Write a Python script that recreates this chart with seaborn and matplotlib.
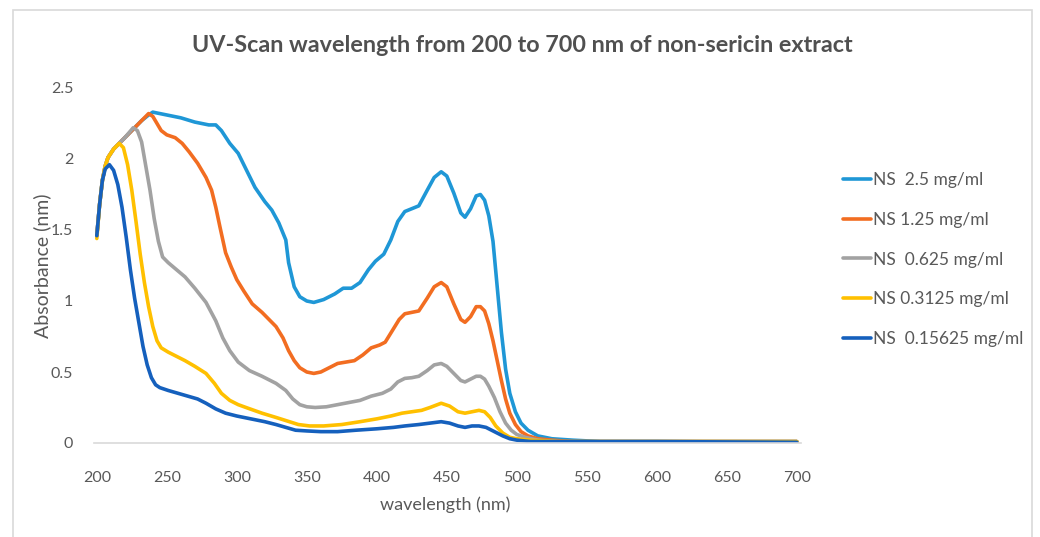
import numpy as np
import pandas as pd
import matplotlib
matplotlib.use("Agg")
import matplotlib.pyplot as plt
import matplotlib.patches as mpatches
import seaborn as sns

# ---------------- data ----------------
series_labels = ["NS  2.5 mg/ml", "NS 1.25 mg/ml", "NS  0.625 mg/ml",
                 "NS 0.3125 mg/ml", "NS  0.15625 mg/ml"]
series_colors = ["#1F97D6", "#F26D21", "#A2A2A2", "#FFC000", "#1560BD"]

wl_25 = [200, 202, 204, 206, 208, 212, 216, 220, 226, 232, 237, 240, 245, 250, 260,
         270, 280, 285, 289, 295, 301, 307, 313, 320, 325, 330, 335, 337, 341, 345,
         350, 355, 362, 370, 376, 382, 388, 394, 399, 405, 410, 415, 420, 425, 430,
         436, 441, 446, 450, 455, 460, 463, 467, 471, 474, 477, 480, 483, 486, 489,
         492, 495, 499, 503, 508, 515, 525, 540, 560, 600, 650, 700]
ab_25 = [1.46, 1.68, 1.85, 1.95, 2.01, 2.07, 2.11, 2.15, 2.21, 2.27, 2.31, 2.33, 2.32, 2.31, 2.29,
         2.26, 2.24, 2.24, 2.20, 2.11, 2.04, 1.92, 1.80, 1.70, 1.64, 1.55, 1.43, 1.27, 1.10, 1.03,
         1.00, 0.99, 1.01, 1.05, 1.09, 1.09, 1.13, 1.22, 1.28, 1.33, 1.43, 1.56, 1.63, 1.65, 1.67,
         1.78, 1.87, 1.91, 1.88, 1.76, 1.62, 1.59, 1.65, 1.74, 1.75, 1.71, 1.60, 1.42, 1.10, 0.78,
         0.52, 0.35, 0.22, 0.14, 0.09, 0.05, 0.03, 0.02, 0.01, 0.01, 0.01, 0.01]

wl_125 = [200, 202, 204, 206, 208, 212, 216, 220, 226, 232, 237, 240, 243, 246, 250,
          256, 261, 266, 272, 278, 282, 285, 288, 292, 296, 300, 305, 311, 318, 323,
          328, 333, 337, 341, 345, 350, 355, 360, 366, 372, 378, 384, 390, 396, 402,
          406, 411, 416, 420, 425, 430, 436, 441, 446, 450, 455, 460, 463, 467, 471,
          474, 477, 480, 483, 486, 489, 492, 495, 499, 503, 508, 515, 525, 540, 600, 700]
ab_125 = [1.46, 1.68, 1.85, 1.95, 2.01, 2.07, 2.11, 2.15, 2.21, 2.27, 2.32, 2.30, 2.25, 2.20, 2.17,
          2.15, 2.11, 2.05, 1.97, 1.87, 1.78, 1.66, 1.52, 1.34, 1.24, 1.15, 1.07, 0.98, 0.92, 0.87,
          0.82, 0.74, 0.65, 0.58, 0.53, 0.50, 0.49, 0.50, 0.53, 0.56, 0.57, 0.58, 0.62, 0.67, 0.69,
          0.71, 0.79, 0.87, 0.91, 0.92, 0.93, 1.02, 1.10, 1.13, 1.10, 0.98, 0.87, 0.85, 0.89, 0.96,
          0.96, 0.93, 0.84, 0.72, 0.58, 0.44, 0.31, 0.21, 0.13, 0.08, 0.05, 0.03, 0.02, 0.01, 0.01, 0.01]

wl_0625 = [200, 202, 204, 206, 208, 212, 216, 220, 226, 229, 232, 235, 238, 241, 244,
           247, 251, 257, 263, 270, 278, 285, 290, 295, 301, 309, 318, 328, 335, 340,
           345, 350, 356, 364, 372, 380, 388, 396, 404, 410, 415, 420, 425, 430, 436,
           441, 446, 450, 456, 460, 463, 467, 471, 474, 477, 480, 484, 488, 492, 496,
           500, 506, 515, 530, 600, 700]
ab_0625 = [1.46, 1.68, 1.85, 1.95, 2.01, 2.07, 2.11, 2.15, 2.22, 2.20, 2.12, 1.95, 1.78, 1.58, 1.42,
           1.31, 1.27, 1.22, 1.17, 1.09, 0.99, 0.86, 0.74, 0.65, 0.57, 0.51, 0.47, 0.42, 0.37, 0.31,
           0.27, 0.255, 0.25, 0.255, 0.27, 0.285, 0.30, 0.33, 0.35, 0.38, 0.43, 0.455, 0.46, 0.47, 0.51,
           0.55, 0.56, 0.54, 0.48, 0.44, 0.43, 0.45, 0.47, 0.47, 0.45, 0.40, 0.32, 0.22, 0.14, 0.09,
           0.06, 0.04, 0.02, 0.01, 0.01, 0.01]

wl_03125 = [200, 202, 204, 206, 208, 212, 216, 219, 222, 225, 228, 231, 234, 237, 240,
            243, 246, 251, 257, 263, 270, 278, 284, 289, 295, 301, 308, 318, 328, 336,
            344, 352, 362, 375, 388, 400, 410, 418, 425, 432, 438, 446, 452, 458, 463,
            468, 473, 477, 481, 485, 490, 495, 500, 510, 530, 600, 700]
ab_03125 = [1.44, 1.68, 1.85, 1.95, 2.01, 2.07, 2.11, 2.08, 1.96, 1.78, 1.56, 1.33, 1.13, 0.96, 0.82,
            0.72, 0.67, 0.64, 0.61, 0.58, 0.54, 0.49, 0.42, 0.35, 0.30, 0.27, 0.245, 0.21, 0.18, 0.155,
            0.13, 0.12, 0.12, 0.13, 0.15, 0.17, 0.19, 0.21, 0.22, 0.23, 0.25, 0.28, 0.26, 0.22, 0.21,
            0.22, 0.23, 0.22, 0.18, 0.12, 0.07, 0.04, 0.03, 0.02, 0.01, 0.01, 0.01]

wl_015625 = [200, 202, 204, 206, 209, 212, 215, 218, 221, 224, 227, 230, 233, 236, 239,
             242, 245, 251, 258, 265, 272, 278, 285, 292, 300, 310, 320, 328, 335, 342,
             350, 360, 372, 385, 400, 412, 420, 430, 438, 446, 452, 458, 463, 468, 473,
             478, 482, 486, 490, 495, 500, 510, 600, 700]
ab_015625 = [1.46, 1.68, 1.85, 1.93, 1.96, 1.92, 1.82, 1.66, 1.45, 1.22, 1.02, 0.85, 0.68, 0.55, 0.46,
             0.41, 0.39, 0.37, 0.35, 0.33, 0.31, 0.28, 0.24, 0.21, 0.19, 0.17, 0.15, 0.13, 0.11, 0.09,
             0.085, 0.08, 0.08, 0.09, 0.10, 0.11, 0.12, 0.13, 0.14, 0.15, 0.14, 0.12, 0.11, 0.12, 0.12,
             0.11, 0.09, 0.07, 0.05, 0.03, 0.02, 0.01, 0.01, 0.005]

x_ticks = [200, 250, 300, 350, 400, 450, 500, 550, 600, 650, 700]
y_ticks = [0, 0.5, 1, 1.5, 2, 2.5]
y_tick_labels = ["0", "0.5", "1", "1.5", "2", "2.5"]

title = "UV-Scan wavelength from 200 to 700 nm of non-sericin extract"
x_label = "wavelength (nm)"
y_label = "Absorbance (nm)"

# ---------------- build long table ----------------
wls = [wl_25, wl_125, wl_0625, wl_03125, wl_015625]
abs_ = [ab_25, ab_125, ab_0625, ab_03125, ab_015625]
frames = []
for lab, w, a in zip(series_labels, wls, abs_):
    frames.append(pd.DataFrame({"wavelength": w, "absorbance": a, "series": lab}))
df = pd.concat(frames, ignore_index=True)

# ---------------- style ----------------
sns.set_theme(style="white")
plt.rcParams["font.family"] = ["Lato", "DejaVu Sans"]
text_col = "#595959"

W, H = 1040, 537
fig = plt.figure(figsize=(W / 100, H / 100), dpi=100)
fig.patch.set_facecolor("white")

ax_l, ax_r, ax_t, ax_b = 94, 801, 88, 443
ax = fig.add_axes([ax_l / W, 1 - ax_b / H, (ax_r - ax_l) / W, (ax_b - ax_t) / H])

sns.lineplot(data=df, x="wavelength", y="absorbance", hue="series",
             hue_order=series_labels, palette=series_colors,
             linewidth=2.6, ax=ax, legend=False, sort=False, estimator=None)

ax.set_xlim(198, 703)
ax.set_ylim(0, 2.5)
ax.set_xticks(x_ticks)
ax.set_xticklabels([str(t) for t in x_ticks])
ax.set_yticks(y_ticks)
ax.set_yticklabels(y_tick_labels)
ax.tick_params(axis="both", length=0, labelsize=11.5, labelcolor=text_col)
ax.tick_params(axis="x", pad=20)
ax.tick_params(axis="y", pad=15)

for s in ["top", "right", "left"]:
    ax.spines[s].set_visible(False)
ax.spines["bottom"].set_color("#D9D9D9")
ax.spines["bottom"].set_linewidth(1.2)
ax.grid(False)

ax.set_xlabel(x_label, fontsize=13, color=text_col)
ax.xaxis.set_label_coords((445 - ax_l) / (ax_r - ax_l), -(505 - ax_b) / (ax_b - ax_t))
ax.xaxis.label.set_va("center")
ax.set_ylabel(y_label, fontsize=14, color=text_col)
ax.yaxis.label.set_va("center")
ax.yaxis.set_label_coords((42 - ax_l) / (ax_r - ax_l), (ax_b - 266) / (ax_b - ax_t))

fig.text(522 / W, 1 - 45 / H, title, ha="center", va="center",
         fontsize=16.8, fontweight="bold", color="#505050")

# legend
handles = [plt.Line2D([0], [0], color=c, lw=2.6) for c in series_colors]
fig.legend(handles, series_labels, loc="upper left",
           bbox_to_anchor=(843 / W, 1 - 172 / H), frameon=False,
           fontsize=12.5, labelcolor=text_col, handlelength=1.6,
           handletextpad=0.15, labelspacing=1.37, borderpad=0, borderaxespad=0)

# chart border
fig.patches.append(mpatches.Rectangle((13 / W, -0.02), (1032 - 13) / W, 1.02 - 10 / H,
                                      transform=fig.transFigure, fill=False,
                                      edgecolor="#D9D9D9", lw=1.2))

fig.savefig("out.png", dpi=100, facecolor="white")
